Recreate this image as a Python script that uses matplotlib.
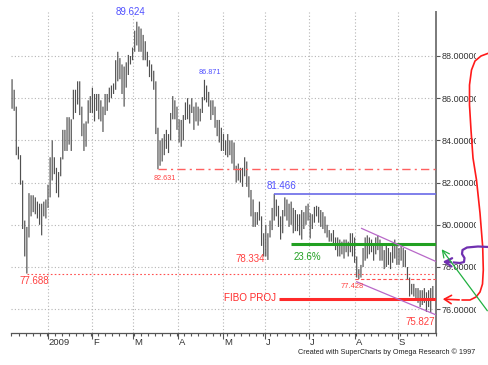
import numpy as np
import matplotlib
matplotlib.use('Agg')
import matplotlib.pyplot as plt
from matplotlib.transforms import Bbox, TransformedBbox, blended_transform_factory

plt.rcParams['font.family'] = ['Liberation Sans', 'DejaVu Sans']

# ---- daily bars (high / low), Dec 2008 - Sep 2009 ----
highs = [
    # Dec
    86.9, 86.4, 85.6, 83.7, 83.3, 82.1, 80.2, 79.9, 81.5, 81.4, 81.4, 81.3, 81.1, 81.0, 81.0, 81.1, 81.2,
    # Jan
    81.9, 83.2, 84.0, 83.2, 82.7, 82.5, 83.2, 84.5, 84.5, 85.1, 85.1, 85.0, 86.4, 86.4, 86.8, 86.8, 85.6, 84.8, 84.9, 85.9, 86.1,
    # Feb
    86.5, 86.2, 86.2, 86.2, 85.9, 85.6, 86.2, 86.2, 86.5, 86.6, 86.7, 87.8, 88.2, 87.9, 87.6, 87.5, 87.7, 88.05, 88.0, 88.4,
    # Mar
    89.2, 89.624, 89.4, 89.3, 89.0, 88.7, 88.2, 87.8, 87.6, 87.3, 86.8, 84.6, 84.0, 84.1, 84.3, 84.5, 84.3, 85.3, 86.1, 85.9, 85.6,
    # Apr
    85.0, 84.97, 85.2, 85.8, 86.0, 85.7, 86.0, 85.6, 85.8, 85.6, 85.5, 86.05, 86.871, 86.6, 86.3, 85.9, 85.9, 85.6, 84.97, 84.97, 84.6,
    # May
    84.3, 84.0, 84.3, 84.0, 84.0, 83.9, 82.8, 82.9, 82.7, 82.7, 83.2, 83.0, 82.3, 81.65, 81.2, 80.6, 80.6, 81.1, 80.4, 79.6,
    # Jun
    80.0, 79.6, 80.2, 80.8, 81.466, 81.2, 80.9, 80.4, 80.7, 81.3, 81.2, 81.0, 81.1, 80.8, 80.7, 80.5, 80.5, 80.7, 80.6, 80.9, 81.0,
    # Jul
    80.55, 80.5, 80.85, 80.9, 80.85, 80.7, 80.6, 80.4, 80.0, 79.75, 79.6, 79.75, 79.4, 79.4, 79.3, 79.2, 79.3, 79.3, 79.2, 79.6, 79.6, 79.4,
    # Aug
    78.5, 77.9, 78.1, 78.9, 79.4, 79.5, 79.4, 79.3, 79.1, 79.4, 79.5, 79.3, 79.1, 78.8, 79.0, 78.9, 78.7, 79.1, 79.3, 79.1,
    # Sep
    78.9, 79.0, 78.9, 78.8, 78.0, 77.5, 77.2, 77.2, 77.0, 77.0, 76.9, 76.9, 77.0, 76.8, 76.9, 77.0, 77.1,
]
lows = [
    # Dec
    85.5, 85.4, 83.3, 83.1, 81.9, 79.8, 78.5, 77.688, 79.4, 80.4, 80.6, 80.5, 80.3, 80.0, 79.5, 80.4, 80.3,
    # Jan
    80.8, 81.3, 82.1, 82.4, 81.5, 81.3, 82.3, 83.1, 83.5, 83.5, 83.8, 83.5, 85.0, 85.3, 85.7, 85.2, 84.2, 83.5, 83.7, 84.8, 85.3,
    # Feb
    85.3, 84.9, 85.4, 85.0, 84.9, 84.4, 85.2, 85.4, 85.8, 86.0, 86.2, 86.4, 86.8, 86.9, 86.2, 85.6, 86.5, 87.1, 87.6, 87.8,
    # Mar
    88.2, 88.5, 88.2, 88.2, 87.8, 87.8, 87.5, 87.0, 86.8, 86.4, 84.3, 82.631, 82.8, 83.0, 83.3, 83.6, 83.4, 84.0, 85.0, 85.0, 84.5,
    # Apr
    83.9, 83.7, 84.0, 84.97, 85.0, 84.8, 85.3, 84.5, 84.9, 84.7, 84.9, 85.3, 85.9, 85.8, 85.6, 84.97, 85.2, 84.6, 84.2, 83.9, 83.5,
    # May
    83.5, 83.3, 83.2, 83.3, 82.9, 82.6, 82.0, 82.1, 82.0, 81.8, 82.3, 81.8, 81.3, 80.4, 79.9, 79.9, 80.0, 80.2, 79.0, 78.5,
    # Jun
    78.5, 78.334, 79.4, 79.75, 80.2, 80.4, 79.9, 79.3, 79.6, 80.4, 80.2, 79.9, 80.0, 79.6, 79.7, 79.7, 79.5, 79.3, 79.8, 80.0, 80.2,
    # Jul
    79.35, 79.8, 80.1, 80.4, 80.1, 79.9, 79.8, 79.6, 79.4, 79.2, 79.2, 79.1, 78.8, 78.5, 78.5, 78.6, 78.4, 78.7, 78.5, 78.7, 78.5, 78.2,
    # Aug
    77.5, 77.428, 77.5, 78.0, 78.3, 78.4, 78.6, 78.7, 78.3, 78.6, 78.8, 78.3, 78.3, 77.9, 78.0, 78.1, 77.9, 78.2, 78.4, 78.1,
    # Sep
    78.1, 78.3, 78.0, 78.0, 77.4, 76.6, 76.7, 76.6, 76.4, 76.3, 76.1, 76.2, 76.3, 75.87, 76.1, 75.827, 76.4,
]

month_labels = ['2009', 'F', 'M', 'A', 'M', 'J', 'J', 'A', 'S']
month_pos = [16.8, 37.8, 57.2, 78.5, 99.8, 119.6, 140.5, 162.2, 182.6]
price_ticks = [76, 78, 80, 82, 84, 86, 88]
price_tick_labels = ['76.00000', '78.00000', '80.00000', '82.00000', '84.00000', '86.00000', '88.00000']

# swing labels: (text, bar index, price, colour, size, dx, dy, ha)
swing_labels = [
    ('89.624', 59, 89.624, '#5050ff', 7.0, -6, 10, 'center'),
    ('86.871', 91, 86.871, '#5050ff', 5.2, 5, 7, 'center'),
    ('82.631', 69, 82.631, '#ff4040', 5.2, 7, -9, 'center'),
    ('81.466', 124, 81.466, '#5050ff', 7.0, 7, 8, 'center'),
    ('78.334', 121, 78.334, '#ff4040', 7.0, -3, 1, 'right'),
    ('77.688', 7, 77.688, '#ff4040', 7.0, 7, -7.5, 'center'),
    ('77.428', 164, 77.428, '#ff4040', 5.4, -7, -7.5, 'center'),
    ('75.827', 198, 75.827, '#ff4040', 7.0, -10, -9.6, 'center'),
]

# horizontal levels
lvl_82631 = (82.631, 69)
lvl_81466 = (81.466, 124)
fib_236 = (79.08, 132)
fibo_proj = (76.47, 126.3)
lvl_77688 = (77.688, 7.2)
lvl_77428 = (77.428, 162.3)
# channel lines (start idx, start price, end idx, end price)
chan_upper = (165.3, 79.83, 200.5, 78.26)
chan_lower = (163.0, 77.30, 200.5, 75.73)

W, H = 489, 365
fig = plt.figure(figsize=(W / 100, H / 100), dpi=100)
fig.patch.set_facecolor('white')
ax = fig.add_axes([11 / W, 32 / H, (436 - 11) / W, (333 - 12) / H])
n = len(highs)
x = np.arange(n)
ax.set_xlim(-0.5, 200.5)
ax.set_ylim(88 - (333 - 56) / 21.1, 88 + (56 - 12) / 21.1)

# grid
for p in price_ticks:
    ax.axhline(p, color='#b5b5b5', lw=0.8, ls=(0, (1, 2)), zorder=0)
for m in month_pos:
    ax.axvline(m, color='#b5b5b5', lw=0.8, ls=(0, (1, 2)), zorder=0)

# bars
bars = ax.vlines(x, lows, highs, color='#505050', lw=0.85, zorder=2)
bars.set_snap(False)

# level lines
xr = 200.5
ax.hlines(lvl_82631[0], lvl_82631[1], xr, color='#ff6060', lw=1.0, ls=(0, (6, 3, 1.5, 3)), zorder=3)
ax.hlines(lvl_81466[0], lvl_81466[1], xr, color='#6a6ae8', lw=1.2, zorder=3)
ax.hlines(fib_236[0], fib_236[1], xr, color='#22a022', lw=2.2, zorder=3)
ax.hlines(fibo_proj[0], fibo_proj[1], xr, color='#ff2a2a', lw=2.2, zorder=3)
ax.hlines(lvl_77688[0], lvl_77688[1], xr, color='#ff5050', lw=0.8, ls=(0, (1.5, 2)), zorder=3)
ax.hlines(lvl_77428[0], lvl_77428[1], xr, color='#ff5050', lw=0.8, ls=(0, (3, 2)), zorder=3)
for c in (chan_upper, chan_lower):
    ax.plot([c[0], c[2]], [c[1], c[3]], color='#b868c8', lw=0.9, zorder=3, clip_on=True)

# labels
for t, i, p, col, fs, dx, dy, ha in swing_labels:
    ax.annotate(t, xy=(i, p), xytext=(dx, dy), textcoords='offset pixels',
                color=col, fontsize=fs, ha=ha, va='center', annotation_clip=False)
ax.annotate('23.6%', xy=(fib_236[1], fib_236[0]), xytext=(2, -13), textcoords='offset pixels',
            color='#22a022', fontsize=7, ha='left', va='center')
ax.annotate('FIBO PROJ', xy=(fibo_proj[1], fibo_proj[0]), xytext=(-3, 1), textcoords='offset pixels',
            color='#ff2a2a', fontsize=7.1, ha='right', va='center')

# spines / ticks
for s in ('left', 'top'):
    ax.spines[s].set_visible(False)
ax.spines['right'].set_color('#7a7a7a')
ax.spines['right'].set_linewidth(1.4)
ax.spines['bottom'].set_color('#555555')
ax.spines['bottom'].set_linewidth(0.9)
ax.yaxis.tick_right()
ax.set_yticks(price_ticks)
ax.set_yticklabels(price_tick_labels, fontsize=6.5, color='#333333')
ax.tick_params(axis='y', length=3, width=0.8, color='#555555', pad=1)
clipbox = TransformedBbox(Bbox([[0, 0], [476.5 / W, 1]]), fig.transFigure)
for lab in ax.get_yticklabels():
    lab.set_clip_on(True)
    lab.set_clip_box(clipbox)

ax.set_xticks(month_pos)
ax.set_xticklabels([])
ax.tick_params(axis='x', which='major', length=4, width=0.8, color='#555555')
ax.set_xticks(np.arange(-0.3, 200.5, 3.4), minor=True)
ax.tick_params(axis='x', which='minor', length=2.5, width=0.8, color='#555555')
tr = blended_transform_factory(ax.transData, ax.transAxes)
for m, lab in zip(month_pos, month_labels):
    ax.text(m + 0.4, -0.017, lab, transform=tr, ha='left', va='top', fontsize=6.8, color='#333333')

# overlay for hand-drawn annotations outside the plot
ov = fig.add_axes([0, 0, 1, 1])
ov.set_xlim(0, W)
ov.set_ylim(H, 0)
ov.axis('off')
ov.patch.set_alpha(0)

red_curve_x = [489, 481, 475, 471.5, 469.5, 469.5, 471, 473, 476.5, 480, 482.7, 483.3, 482.5, 480, 476, 470, 462]
red_curve_y = [53, 56, 61, 70, 85, 105, 130, 158, 180, 213, 247, 270, 284, 292, 297, 300, 300]
ov.plot(red_curve_x, red_curve_y, color='#ff1a1a', lw=1.2, solid_capstyle='round')
ov.annotate('', xy=(440, 299), xytext=(462, 300),
            arrowprops=dict(arrowstyle='->,head_length=0.5,head_width=0.3', color='#ff1a1a', lw=1.2))

pur_x = [489, 478, 467, 462.5, 462, 464.5, 464, 460, 454]
pur_y = [247, 246.5, 247.5, 250, 254, 258, 262, 263, 262.5]
ov.plot(pur_x, pur_y, color='#7030b0', lw=1.6)
ov.annotate('', xy=(440, 261.5), xytext=(454, 262.5),
            arrowprops=dict(arrowstyle='->,head_length=0.5,head_width=0.3', color='#7030b0', lw=1.6))

ov.annotate('', xy=(440, 247), xytext=(489, 313),
            arrowprops=dict(arrowstyle='->,head_length=0.5,head_width=0.25', color='#20b040', lw=0.9))

ov.text(387, 352, 'Created with SuperCharts by Omega Research \u00a9 1997', ha='center', va='center',
        fontsize=5.2, color='#222222')

fig.savefig('out.png', dpi=100)
